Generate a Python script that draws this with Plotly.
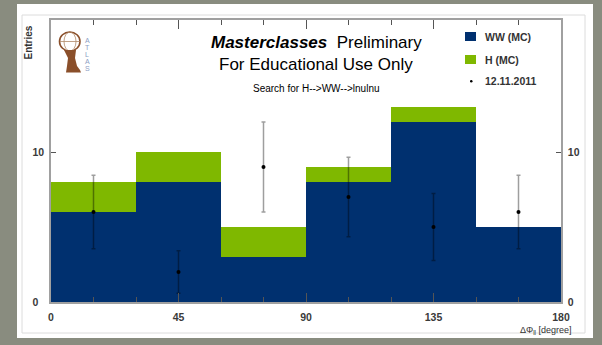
import numpy as np
import plotly.graph_objects as go

# ---- data ----
bin_centers = [15, 45, 75, 105, 135, 165]
bin_width = 30
ww_mc = [6, 8, 3, 8, 12, 5]
h_mc = [2, 2, 2, 1, 1, 0]
data_counts = [6, 2, 9, 7, 5, 6]
data_err = [float(np.sqrt(v)) for v in data_counts]
x_ticks = [0, 45, 90, 135, 180]
y_ticks = [0, 10]
y_ticktext_left = ["0\u2007", "10"]
y_ticktext_right = ["0", "10"]

BLUE = "#00306f"
GREEN = "#7fb800"
W, H = 602, 345
L, R, T, B = 51, 561, 20, 302

def px(x):
    return (x - L) / (R - L)

def py(y):
    return (B - y) / (B - T)

fig = go.Figure()
fig.add_trace(go.Bar(x=bin_centers, y=ww_mc, width=bin_width, marker=dict(color=BLUE, line=dict(width=0)),
                     name="WW (MC)", showlegend=False))
fig.add_trace(go.Bar(x=bin_centers, y=h_mc, width=bin_width, marker=dict(color=GREEN, line=dict(width=0)),
                     name="H (MC)", showlegend=False))
fig.add_trace(go.Scatter(x=bin_centers, y=data_counts, mode="markers",
                         marker=dict(color="black", size=4),
                         error_y=dict(type="data", array=data_err, color="rgba(0,0,0,0.38)", thickness=1.5, width=2),
                         name="12.11.2011", showlegend=False))
# invisible trace for right axis
fig.add_trace(go.Scatter(x=[0], y=[0], yaxis="y2", mode="markers", marker=dict(opacity=0), showlegend=False,
                         hoverinfo="skip"))

shapes = []
# white card and inner frame
shapes.append(dict(type="rect", xref="paper", yref="paper", x0=px(17), x1=px(593), y0=py(338), y1=py(4),
                   fillcolor="white", line=dict(width=0), layer="below"))
shapes.append(dict(type="rect", xref="paper", yref="paper", x0=px(22), x1=px(585), y0=py(333), y1=py(15),
                   fillcolor="rgba(0,0,0,0)", line=dict(width=1, color="#dcdcdc"), layer="below"))
# legend symbols
shapes.append(dict(type="rect", xref="paper", yref="paper", x0=px(465), x1=px(476), y0=py(41), y1=py(32),
                   fillcolor=BLUE, line=dict(width=0)))
shapes.append(dict(type="rect", xref="paper", yref="paper", x0=px(465), x1=px(476), y0=py(64), y1=py(55),
                   fillcolor=GREEN, line=dict(width=0)))
shapes.append(dict(type="circle", xref="paper", yref="paper", x0=px(470), x1=px(472.5), y0=py(82.5), y1=py(80),
                   fillcolor="black", line=dict(width=0)))
# ATLAS logo (simplified)
BR = "#8a4f2a"
shapes.append(dict(type="circle", xref="paper", yref="paper", x0=px(59.5), x1=px(80), y0=py(51), y1=py(32),
                   line=dict(width=1.6, color=BR)))
shapes.append(dict(type="circle", xref="paper", yref="paper", x0=px(64), x1=px(76), y0=py(51), y1=py(32),
                   line=dict(width=0.8, color="#b08a6a")))
shapes.append(dict(type="line", xref="paper", yref="paper", x0=px(60), x1=px(79.5), y0=py(41.5), y1=py(41.5),
                   line=dict(width=0.8, color="#b08a6a")))
shapes.append(dict(type="path", xref="paper", yref="paper",
                   path=f"M {px(64)},{py(50)} L {px(76)},{py(50)} L {px(75)},{py(58)} L {px(77)},{py(66)} "
                        f"L {px(80)},{py(70)} L {px(81)},{py(72.5)} L {px(66)},{py(72.5)} L {px(67)},{py(66)} "
                        f"L {px(68)},{py(58)} Z",
                   fillcolor=BR, line=dict(width=0)))

FONT = "Liberation Sans, Arial"
annotations = []
def ann(text, x, y, size, color="#222", xanchor="center", yanchor="middle", textangle=0, weight="normal"):
    annotations.append(dict(text=text, x=px(x), y=py(y), xref="paper", yref="paper", showarrow=False,
                            xanchor=xanchor, yanchor=yanchor, textangle=textangle,
                            font=dict(size=size, color=color, family=FONT, weight=weight)))

ann("<b><i>Masterclasses</i></b>  Preliminary", 316, 42, 17, color="black")
ann("For Educational Use Only", 316, 65, 17, color="black")
ann("Search for H-->WW-->lnulnu", 316, 88, 10, color="black")
ann("WW (MC)", 483, 37, 10.5, color="#333", xanchor="left", weight="bold")
ann("H (MC)", 483, 60, 10.5, color="#333", xanchor="left", weight="bold")
ann("12.11.2011", 483, 81, 10.5, color="#333", xanchor="left", weight="bold")
ann("Entries", 27.5, 24, 10, color="#333", textangle=-90, yanchor="top", weight="bold")
ann("ΔΦ<sub>ll</sub> [degree]", 574, 330, 9, color="#333", xanchor="right")
for i, letter in enumerate("ATLAS"):
    ann(letter, 87, 40 + i * 7.2, 7, color="#8da0c4")

axis_common = dict(showline=True, linecolor="#a0a0a0", linewidth=1.5, ticks="inside", tickcolor="#555",
                   showgrid=False, zeroline=False,
                   tickfont=dict(size=10.5, color="#3a3a3a", family=FONT, weight="bold"))

fig.update_layout(
    width=W, height=H,
    margin=dict(l=L, r=W - R, t=T, b=H - B),
    paper_bgcolor="#898c7f",
    plot_bgcolor="white",
    barmode="stack", bargap=0,
    showlegend=False,
    shapes=shapes, annotations=annotations,
    xaxis=dict(range=[0, 180], tickvals=x_ticks, ticklen=9, mirror="ticks", ticklabelstandoff=5,
               minor=dict(dtick=15, ticklen=5, ticks="inside", tickcolor="#555"), **axis_common),
    yaxis=dict(range=[0, (B - T) / 15.0], tickvals=y_ticks, ticktext=y_ticktext_left, ticklen=5,
               ticklabelstandoff=3, **axis_common),
    yaxis2=dict(range=[0, (B - T) / 15.0], tickvals=y_ticks, ticktext=y_ticktext_right, ticklen=5,
                overlaying="y", side="right", ticklabelstandoff=3, **axis_common),
)

fig.write_html("out.html")
